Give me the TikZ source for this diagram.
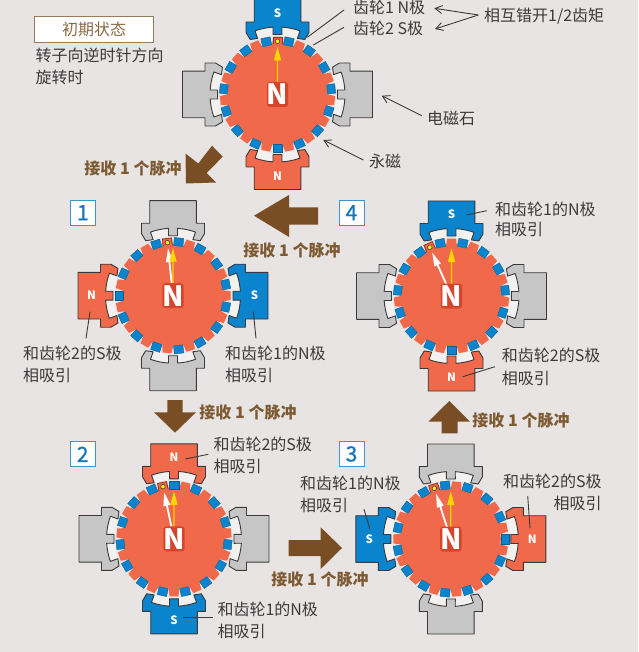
\documentclass[tikz,border=0pt]{standalone}
\usepackage{fontspec}
\setmainfont{Noto Sans CJK SC}
\newfontface\numfont[FakeBold=0.9]{Noto Sans CJK SC}
\usetikzlibrary{arrows.meta}
\definecolor{bgc}{HTML}{E9E4E4}
\definecolor{rotorc}{HTML}{F0694A}
\definecolor{bluec}{HTML}{0A84CC}
\definecolor{greyc}{HTML}{C6C6C6}
\definecolor{bandc}{HTML}{F3F1F0}
\definecolor{linec}{HTML}{3A3A3A}
\definecolor{arrowc}{HTML}{7A4E25}
\definecolor{pulsec}{HTML}{7D5A32}
\definecolor{numc}{HTML}{1577BB}
\definecolor{numb}{HTML}{3C95CF}
\definecolor{haloc}{HTML}{D5452C}
\definecolor{yellowc}{HTML}{FFD500}
\definecolor{squarec}{HTML}{0A5F92}
\tikzset{
  lbl/.style={font=\fontsize{16}{16}\selectfont,text=linec,inner sep=0pt,text height=15.4pt,text depth=2pt,anchor=west},
  pulse/.style={font=\fontsize{16}{16}\selectfont\bfseries,text=pulsec,inner sep=0pt,text height=15.4pt,text depth=2pt},
  numbox/.style={draw=numb,line width=1pt,fill=white,minimum size=25pt,inner sep=0pt,text=numc,font=\fontsize{21}{21}\numfont,anchor=center},
  leader/.style={draw=linec,line width=0.9pt},
  barb/.style={draw=linec,line width=0.9pt,-{Straight Barb[length=7pt,width=8pt,line width=0.9pt]}},
  bigarrow/.style={fill=arrowc,draw=none},
  polestroke/.style={draw=linec,line width=0.9pt,line join=round},
  polemark/.style={text=white,font=\fontsize{11.5}{12}\selectfont\bfseries,inner sep=0pt},
  rotorletter/.style={fill=haloc,text=white,rounded corners=3pt,minimum width=21pt,minimum height=25pt,inner sep=0pt,font=\fontsize{28}{28}\selectfont\bfseries}
}
% one stator pole: motor name, angle, fill colour, letter
\newcommand\statorpole[4]{%
  \begin{scope}[rotate=#2]
    \fill[bandc] (86.2:58.5) arc[start angle=86.2,end angle=70.5,radius=58.5pt] -- (70.5:67.5) arc[start angle=70.5,end angle=86.2,radius=67.5pt] -- cycle;
    \fill[bandc] (93.8:58.5) arc[start angle=93.8,end angle=109.5,radius=58.5pt] -- (109.5:67.5) arc[start angle=109.5,end angle=93.8,radius=67.5pt] -- cycle;
    \path[polestroke,fill=#3] (-23.3,95) -- (23.3,95) -- (23.3,72.5) -- (31.5,72.5) -- (31.5,62) -- (27.3,55)
      -- (70.5:59.5) -- (70.5:67.5) arc[start angle=70.5,end angle=86.2,radius=67.5pt] -- (4.5,60) -- (-4.5,60)
      -- (93.8:67.5) arc[start angle=93.8,end angle=109.5,radius=67.5pt] -- (109.5:59.5)
      -- (-27.3,55) -- (-31.5,62) -- (-31.5,72.5) -- (-23.3,72.5) -- cycle;
    \ifx&#4&\else\node[polemark] (#1pole#2) at (0,81.5) {#4};\fi
  \end{scope}}
% rotor: name, cx, cy, rotation
\newcommand\rotorbody[4]{%
  \fill[rotorc] (0,0) circle[radius=50pt];
  \foreach \k in {0,...,14}{
    \pgfmathsetmacro\aa{90+#4+24*\k}
    \begin{scope}[rotate=\aa-90]
      \fill[rotorc] (-5.6,49) -- (-4.4,57.5) -- (4.4,57.5) -- (5.6,49) -- cycle;
    \end{scope}
    \begin{scope}[rotate=\aa-90+12]
      \path[fill=bluec,draw=squarec,line width=0.4pt] (-4.7,49.9) rectangle (4.7,58);
    \end{scope}
  }
  \begin{scope}[rotate=#4]
    \draw[haloc!70!black,line width=0.8pt] (-4.6,50) -- (-4.6,57.5) -- (4.6,57.5) -- (4.6,50);
    \path[fill=yellow,draw=linec,line width=0.6pt] (0,53.3) circle[radius=2.3pt];
  \end{scope}
  \ifdim #4pt=0pt\else
  \begin{scope}[rotate=#4]
    \fill[white] (-0.9,8) -- (0.9,8) -- (0.9,34) -- (3.6,34) -- (0,47.5) -- (-3.6,34) -- (-0.9,34) -- cycle;
  \end{scope}\fi
  \fill[yellowc] (-0.65,8) -- (0.65,8) -- (0.65,34) -- (3.7,34) -- (0,47.7) -- (-3.7,34) -- (-0.65,34) -- cycle;
  \node[rotorletter] (#1letter) at (0,0) {N};
}
\newcommand\pulselabel[2]{\node[pulse] (#1) at (#2) {接收 1 个脉冲};}
\begin{document}
\begin{tikzpicture}[x=1pt,y=-1pt]
\useasboundingbox (0,0) rectangle (638,652);
\fill[bgc] (0,0) rectangle (638,652);

% motor 0
\begin{scope}[x=1pt,y=1pt,shift={(277.5pt,-94.5pt)}]
  \statorpole{mz}{0}{bluec}{S}\statorpole{mz}{90}{greyc}{}\statorpole{mz}{180}{rotorc}{N}\statorpole{mz}{270}{greyc}{}
  \rotorbody{mz}{0}{0}{0}
\end{scope}
% motor 1
\begin{scope}[x=1pt,y=1pt,shift={(173pt,-295.7pt)}]
  \statorpole{ma}{0}{greyc}{}\statorpole{ma}{90}{rotorc}{N}\statorpole{ma}{180}{greyc}{}\statorpole{ma}{270}{bluec}{S}
  \rotorbody{ma}{0}{0}{6}
\end{scope}
% motor 2
\begin{scope}[x=1pt,y=1pt,shift={(174pt,-538.8pt)}]
  \statorpole{mb}{0}{rotorc}{N}\statorpole{mb}{90}{greyc}{}\statorpole{mb}{180}{bluec}{S}\statorpole{mb}{270}{greyc}{}
  \rotorbody{mb}{0}{0}{12}
\end{scope}
% motor 3
\begin{scope}[x=1pt,y=1pt,shift={(450.8pt,-539pt)}]
  \statorpole{mc}{0}{greyc}{}\statorpole{mc}{90}{bluec}{S}\statorpole{mc}{180}{greyc}{}\statorpole{mc}{270}{rotorc}{N}
  \rotorbody{mc}{0}{0}{18}
\end{scope}
% motor 4
\begin{scope}[x=1pt,y=1pt,shift={(451.5pt,-296pt)}]
  \statorpole{md}{0}{bluec}{S}\statorpole{md}{90}{greyc}{}\statorpole{md}{180}{rotorc}{N}\statorpole{md}{270}{greyc}{}
  \rotorbody{md}{0}{0}{24}
\end{scope}

% big arrows
\path[bigarrow] (186,183.5) -- (185.5,153.5) -- (198.3,163.5) -- (212,145.7) -- (222.7,156.7) -- (206.7,173) -- (216,182.5) -- cycle;
\path[bigarrow] (254,215.7) -- (289,195) -- (289,207.5) -- (318,207.5) -- (318,224.5) -- (289,224.5) -- (289,237) -- cycle;
\path[bigarrow] (175,432.7) -- (154,412.3) -- (167.3,412.3) -- (167.3,400) -- (182.7,400) -- (182.7,412.3) -- (196,412.3) -- cycle;
\path[bigarrow] (342,548) -- (320.7,527.3) -- (320.7,540) -- (288.7,540) -- (288.7,556) -- (320.7,556) -- (320.7,569) -- cycle;
\path[bigarrow] (449.3,401) -- (428.3,421.7) -- (441.7,421.7) -- (441.7,433.3) -- (457.7,433.3) -- (457.7,421.7) -- (470,421.7) -- cycle;

% pulse labels
\pulselabel{pa}{133,168}
\pulselabel{pb}{292,250}
\pulselabel{pc}{248,412}
\pulselabel{pd}{320,579}
\pulselabel{pe}{521,420}

% state box
\node[draw=pulsec!80,line width=1.3pt,fill=white,minimum width=119pt,minimum height=25.5pt,inner sep=0pt,text=pulsec!90,font=\fontsize{16}{16}\selectfont] (state) at (94.2,29.5) {初期状态};
\node[lbl] (ta) at (35.5,55) {转子向逆时针方向};
\node[lbl] (tb) at (35.5,77) {旋转时};

% number boxes
\node[numbox] (na) at (82.8,212.7) {1};
\node[numbox] (nb) at (82.7,454.3) {2};
\node[numbox] (nc) at (351.5,454) {3};
\node[numbox] (nd) at (351.5,212.7) {4};

% labels
\node[lbl] (ga) at (353,7) {齿轮1 N极};
\node[lbl] (gb) at (353,27.5) {齿轮2 S极};
\node[lbl] (gc) at (484,15) {相互错开1/2齿矩};
\node[lbl] (gd) at (427,118) {电磁石};
\node[lbl] (ge) at (369,161) {永磁};

\node[lbl] (ha) at (495,209) {和齿轮1的N极};
\node[lbl] at (495,229) (hb) {相吸引};
\node[lbl] (hc) at (501.7,355) {和齿轮2的S极};
\node[lbl] (hd) at (501.7,377.7) {相吸引};

\node[lbl] (ia) at (23,353) {和齿轮2的S极};
\node[lbl] (ib) at (23,375) {相吸引};
\node[lbl] (ic) at (225,353) {和齿轮1的N极};
\node[lbl] (id) at (225,375) {相吸引};

\node[lbl] (ja) at (213.3,444) {和齿轮2的S极};
\node[lbl] (jb) at (213.3,465.7) {相吸引};
\node[lbl] (jc) at (217.3,609) {和齿轮1的N极};
\node[lbl] (jd) at (217.3,630.7) {相吸引};

\node[lbl] (ka) at (300,483) {和齿轮1的N极};
\node[lbl] (kb) at (300,505) {相吸引};
\node[lbl] (kc) at (503,481) {和齿轮2的S极};
\node[lbl] (kd) at (553.5,503) {相吸引};

% leaders
\coordinate (la1) at (344,10);      \coordinate (la2) at (307.3,37.3);
\coordinate (lb1) at (344,27.3);    \coordinate (lb2) at (313.3,45);
\coordinate (lc0) at (478.3,15);    \coordinate (lc1) at (434.3,8.3);  \coordinate (lc2) at (435,29);
\coordinate (ld1) at (421.7,115.7); \coordinate (ld2) at (381.7,95.7);
\coordinate (le1) at (363.3,160);   \coordinate (le2) at (323.3,140);
\coordinate (lf1) at (486.7,210.7); \coordinate (lf2) at (466.7,215);
\coordinate (lg1) at (495,366.7);   \coordinate (lg2) at (462.7,376.7);
\coordinate (lh1) at (90,311.7);    \coordinate (lh2) at (86,338.3);
\coordinate (li1) at (253.3,311.7); \coordinate (li2) at (256,338.3);
\coordinate (lj1) at (208.3,454.3); \coordinate (lj2) at (185.3,459);
\coordinate (lk1) at (212.7,617.7); \coordinate (lk2) at (182.7,617.7);
\coordinate (ll1) at (364,509.3);   \coordinate (ll2) at (370,529.3);
\coordinate (lm1) at (527.7,496);   \coordinate (lm2) at (530,528.3);

\draw[leader] (la1) -- (la2);
\draw[leader] (lb1) -- (lb2);
\draw[barb] (lc0) -- (lc1);
\draw[barb] (lc0) -- (lc2);
\draw[barb] (ld1) -- (ld2);
\draw[barb] (le1) -- (le2);
\draw[leader] (lf1) -- (lf2);
\draw[leader] (lg1) -- (lg2);
\draw[leader] (lh1) -- (lh2);
\draw[leader] (li1) -- (li2);
\draw[leader] (lj1) -- (lj2);
\draw[leader] (lk1) -- (lk2);
\draw[leader] (ll1) -- (ll2);
\draw[leader] (lm1) -- (lm2);
\end{tikzpicture}
\end{document}
